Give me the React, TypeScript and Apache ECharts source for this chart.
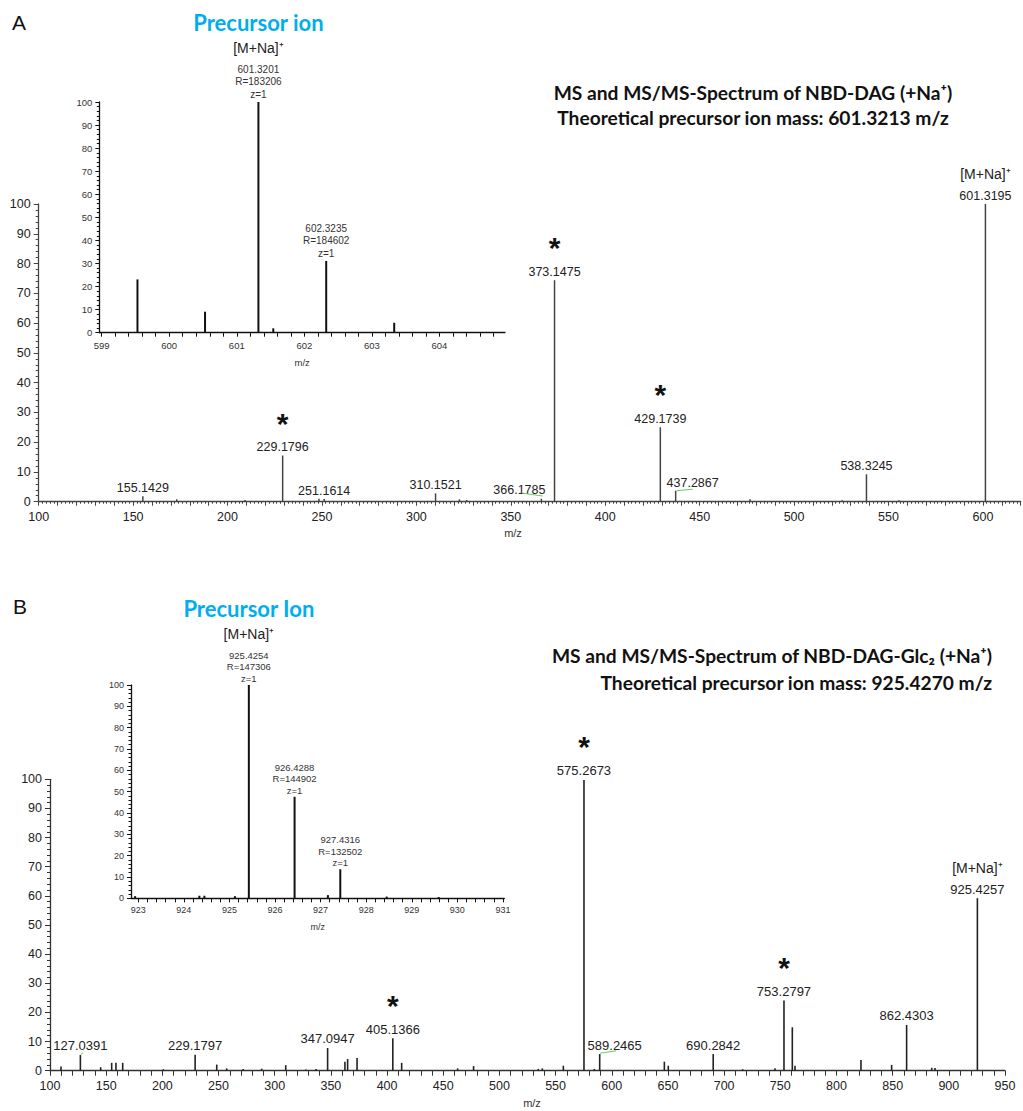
import React, { useEffect, useRef } from 'react';
import * as echarts from 'echarts';

// ---------- Panel A : NBD-DAG ----------
const aMz = [155.1429, 173.1, 209.3, 229.1796, 248.4, 251.1614, 310.1521, 322.8, 326.7, 366.1785, 373.1475, 429.1739, 437.2867, 476.7, 525.5, 538.3245, 555.5, 601.3195];
const aInt = [1.8, 0.8, 0.6, 15.5, 1.0, 0.9, 2.8, 0.8, 0.6, 1.0, 74.4, 25.0, 3.7, 0.8, 0.5, 9.2, 0.5, 100];
const aLabels = ['155.1429', '', '', '229.1796', '', '251.1614', '310.1521', '', '', '366.1785', '373.1475', '429.1739', '437.2867', '', '', '538.3245', '', '601.3195'];
const aStarred = ['229.1796', '373.1475', '429.1739'];
const aPrecursor = '601.3195';
const aLabelShift: Record<string, number[]> = { '366.1785': [-22, 0], '437.2867': [17, 1] };
const aGreen = [
  [[355.8, 2.9], [366.9, 1.9]],
  [[437.9, 3.7], [446.3, 4.2]],
];

// Inset A
const aInsetMz = [599.53, 600.53, 601.3201, 601.54, 602.3235, 603.33];
const aInsetInt = [23.1, 9.1, 100, 1.9, 31.1, 4.3];
const aInsetLabel = ['', '', '601.3201', '', '602.3235', ''];
const aInsetRes = ['', '', 'R=183206', '', 'R=184602', ''];
const aInsetTicks = [599, 600, 601, 602, 603, 604];

// ---------- Panel B : NBD-DAG-Glc2 ----------
const bMz = [109.8, 127.0391, 145.1, 154.9, 158.7, 164.7, 200.9, 229.1797, 248.4, 257.3, 271.9, 288.4, 309.8, 327.9, 336.8, 347.0947, 362.5, 364.9, 373.3, 405.1366, 413.0, 462.8, 477.0, 534.6, 538.2, 556.9, 575.2673, 584.5, 589.2465, 646.8, 650.3, 690.2842, 716.5, 745.3, 753.2797, 760.7, 763.1, 821.8, 849.1, 862.4303, 884.8, 887.7, 925.4257];
const bInt = [1.4, 5.4, 1.2, 2.7, 2.7, 2.7, 0.5, 5.5, 2.1, 0.8, 0.6, 0.7, 1.9, 0.4, 0.6, 7.8, 3.1, 4.0, 4.4, 11.1, 2.7, 0.8, 1.6, 0.6, 0.8, 1.7, 99.8, 0.6, 5.7, 3.1, 1.7, 5.7, 0.5, 0.8, 24.1, 14.9, 1.7, 3.7, 2.0, 15.7, 1.0, 0.9, 59.2];
const bLabelSet = ['127.0391', '229.1797', '347.0947', '405.1366', '575.2673', '589.2465', '690.2842', '753.2797', '862.4303', '925.4257'];
const bStarred = ['405.1366', '575.2673', '753.2797'];
const bPrecursor = '925.4257';
const bLabelShift: Record<string, number[]> = { '589.2465': [15, 0] };
const bGreen = [
  [[127.3, 5.5], [129.6, 6.3]],
  [[589.5, 6.0], [603.8, 6.8]],
];

// Inset B
const bInsetMz = [922.93, 924.34, 924.45, 925.12, 925.4254, 926.4288, 927.16, 927.4316, 928.45, 929.59];
const bInsetInt = [1.0, 1.2, 1.2, 1.0, 100, 47.6, 1.5, 13.6, 0.8, 0.6];
const bInsetLabel = ['', '', '', '', '925.4254', '926.4288', '', '927.4316', '', ''];
const bInsetRes = ['', '', '', '', 'R=147306', 'R=144902', '', 'R=132502', '', ''];
const bInsetTicks = [923, 924, 925, 926, 927, 928, 929, 930, 931];

const SANS = '"Liberation Sans", Arial, sans-serif';
const CAL = 'Lato, "Open Sans", sans-serif';
const CYAN = '#00AEEF';

function minorList(labels: number[], step: number) {
  const out: number[] = [];
  for (let i = 0; i < labels.length; i++) {
    const start = labels[i];
    const end = i < labels.length - 1 ? labels[i + 1] : labels[i] + 1;
    for (let v = start; v < end - 1e-6; v += step) out.push(Math.round(v * 100) / 100);
  }
  return out;
}

function mainItems(mz: number[], inten: number[], labelOf: (i: number) => string, starred: string[], precursor: string, shift: Record<string, number[]>) {
  return mz.map((x, i) => {
    const item: any = { value: [x, inten[i]] };
    const lab = labelOf(i);
    if (lab) {
      let f = '';
      if (starred.indexOf(lab) >= 0) f += '{star|*}\n';
      if (lab === precursor) f += '{ion|[M+Na]⁺}\n';
      f += '{v|' + lab + '}';
      item.label = { show: true, formatter: f, offset: shift[lab] || [0, 0] };
    }
    return item;
  });
}

function insetItems(mz: number[], inten: number[], labs: string[], res: string[], title: string) {
  return mz.map((x, i) => {
    const item: any = { value: [x, inten[i]] };
    if (labs[i]) {
      let f = '';
      if (inten[i] === 100) f += '{pre|' + title + '}\n{ion|[M+Na]⁺}\n';
      f += '{s|' + labs[i] + '}\n{s|' + res[i] + '}\n{s|z=1}';
      item.label = { show: true, formatter: f };
    }
    return item;
  });
}

function valueAxis(gridIndex: number, extra: any, fontSize: number, margin: number, color: string) {
  return Object.assign({
    type: 'value',
    gridIndex,
    axisLine: { show: true, onZero: false, lineStyle: { color, width: 1.3 } },
    axisTick: { show: true, inside: false, length: 4, lineStyle: { color, width: 1 } },
    splitLine: { show: false },
    minorSplitLine: { show: false },
    axisLabel: { color: '#222', fontSize, fontFamily: SANS, margin },
  }, extra);
}

export default function App() {
  const ref = useRef<HTMLDivElement>(null);

  useEffect(() => {
    document.body.style.margin = '0';
    if (!ref.current) return;
    const chart = echarts.init(ref.current, undefined, { renderer: 'svg' });

    const mainRich = (fs: number, ionLh: number) => ({
      v: { fontSize: fs, lineHeight: 14, color: '#222', fontFamily: SANS },
      star: { fontSize: 30, fontWeight: 'bold', lineHeight: 34, color: '#111', fontFamily: SANS },
      ion: { fontSize: 14, lineHeight: ionLh, color: '#222', fontFamily: SANS },
    });

    const insetRich = (fs: number, lh: number, ionLh: number, preLh: number) => ({
      s: { fontSize: fs, lineHeight: lh, color: '#333', fontFamily: SANS },
      ion: { fontSize: 14, lineHeight: ionLh, color: '#222', fontFamily: SANS },
      pre: { fontSize: 22, lineHeight: preLh, fontWeight: 'bold', color: CYAN, fontFamily: CAL },
    });

    const greenLines = (segs: number[][][]) => ({
      silent: true,
      symbol: ['none', 'none'],
      label: { show: false },
      lineStyle: { color: '#66cc66', width: 1, type: 'solid' },
      data: segs.map((s) => [{ coord: s[0] }, { coord: s[1] }]),
    });

    const option: any = {
      animation: false,
      backgroundColor: '#ffffff',
      grid: [
        { left: 38.7, top: 204, width: 982, height: 297.7, outerBoundsMode: 'none' },
        { left: 99.3, top: 102, width: 405.7, height: 230.7, outerBoundsMode: 'none' },
        { left: 50, top: 779.3, width: 955, height: 291.4, outerBoundsMode: 'none' },
        { left: 131, top: 685, width: 373.3, height: 213.3, outerBoundsMode: 'none' },
      ],
      xAxis: [
        valueAxis(0, {
          min: 100, max: 620, interval: 10,
          minorTick: { show: true, splitNumber: 5, length: 2, lineStyle: { color: '#444' } },
          axisLabel: { color: '#222', fontSize: 12.5, fontFamily: SANS, margin: 9, formatter: (v: number) => (Math.round(v) % 50 === 0 ? String(Math.round(v)) : '') },
        }, 12.5, 9, '#444'),
        valueAxis(1, {
          min: 598.965, max: 604.97,
          name: 'm/z', nameLocation: 'middle', nameGap: 25,
          nameTextStyle: { fontSize: 9.5, color: '#333', fontFamily: SANS },
          axisTick: { show: true, length: 4, customValues: minorList(aInsetTicks, 0.2), lineStyle: { color: '#111' } },
          axisLabel: { color: '#333', fontSize: 9.5, fontFamily: SANS, margin: 8, customValues: aInsetTicks },
        }, 9.5, 8, '#111'),
        valueAxis(2, {
          min: 100, max: 950, interval: 10,
          axisTick: { show: true, length: 5, lineStyle: { color: '#333' } },
          axisLabel: { color: '#222', fontSize: 12.5, fontFamily: SANS, margin: 9, formatter: (v: number) => (Math.round(v) % 50 === 0 ? String(Math.round(v)) : '') },
        }, 12.5, 9, '#333'),
        valueAxis(3, {
          min: 922.84, max: 931.03,
          name: 'm/z', nameLocation: 'middle', nameGap: 24,
          nameTextStyle: { fontSize: 9, color: '#333', fontFamily: SANS },
          axisTick: { show: true, length: 4, customValues: minorList(bInsetTicks.slice(0, -1), 0.2).concat([931]), lineStyle: { color: '#111' } },
          axisLabel: { color: '#333', fontSize: 9, fontFamily: SANS, margin: 7.5, customValues: bInsetTicks },
        }, 9, 7.5, '#111'),
      ],
      yAxis: [
        valueAxis(0, {
          min: 0, max: 100, interval: 10,
          axisTick: { show: true, length: 5, lineStyle: { color: '#444' } },
          minorTick: { show: true, splitNumber: 5, length: 3, lineStyle: { color: '#444' } },
          axisLabel: { color: '#222', fontSize: 12.5, fontFamily: SANS, margin: 8 },
        }, 12.5, 8, '#444'),
        valueAxis(1, {
          min: 0, max: 100, interval: 10,
          axisTick: { show: true, length: 4, lineStyle: { color: '#111' } },
          minorTick: { show: true, splitNumber: 5, length: 2.5, lineStyle: { color: '#111' } },
          axisLabel: { color: '#333', fontSize: 9.5, fontFamily: SANS, margin: 7 },
        }, 9.5, 7, '#111'),
        valueAxis(2, {
          min: 0, max: 100, interval: 10,
          axisTick: { show: true, length: 5, lineStyle: { color: '#333' } },
          minorTick: { show: true, splitNumber: 5, length: 3, lineStyle: { color: '#333' } },
          axisLabel: { color: '#222', fontSize: 12.5, fontFamily: SANS, margin: 8 },
        }, 12.5, 8, '#333'),
        valueAxis(3, {
          min: 0, max: 100, interval: 10,
          axisTick: { show: true, length: 4, lineStyle: { color: '#111' } },
          minorTick: { show: true, splitNumber: 5, length: 2.5, lineStyle: { color: '#111' } },
          axisLabel: { color: '#333', fontSize: 9, fontFamily: SANS, margin: 7 },
        }, 9, 7, '#111'),
      ],
      series: [
        {
          type: 'bar', xAxisIndex: 0, yAxisIndex: 0, barWidth: 1.5,
          itemStyle: { color: '#444' },
          label: { show: false, position: 'top', distance: 1.5, rich: mainRich(12.5, 30) },
          data: mainItems(aMz, aInt, (i) => aLabels[i], aStarred, aPrecursor, aLabelShift),
          markLine: greenLines(aGreen),
        },
        {
          type: 'bar', xAxisIndex: 1, yAxisIndex: 1, barWidth: 2,
          itemStyle: { color: '#111' },
          label: { show: false, position: 'top', distance: 1, rich: insetRich(10, 12.7, 29.3, 22) },
          data: insetItems(aInsetMz, aInsetInt, aInsetLabel, aInsetRes, 'Precursor ion'),
        },
        {
          type: 'bar', xAxisIndex: 2, yAxisIndex: 2, barWidth: 1.6,
          itemStyle: { color: '#222' },
          label: { show: false, position: 'top', distance: 2, rich: mainRich(13, 28) },
          data: mainItems(bMz, bInt, (i) => {
            const s = bMz[i].toFixed(4);
            return bLabelSet.indexOf(s) >= 0 ? s : '';
          }, bStarred, bPrecursor, bLabelShift),
          markLine: greenLines(bGreen),
        },
        {
          type: 'bar', xAxisIndex: 3, yAxisIndex: 3, barWidth: 2,
          itemStyle: { color: '#111' },
          label: { show: false, position: 'top', distance: 0.5, rich: insetRich(9.5, 11.7, 31.7, 18.3) },
          data: insetItems(bInsetMz, bInsetInt, bInsetLabel, bInsetRes, 'Precursor Ion'),
        },
      ],
      graphic: [
        { type: 'text', x: 19, y: 22, style: { text: 'A', fontSize: 21, fontFamily: SANS, fill: '#111', align: 'center', verticalAlign: 'middle' } },
        { type: 'text', x: 20, y: 606, style: { text: 'B', fontSize: 21, fontFamily: SANS, fill: '#111', align: 'center', verticalAlign: 'middle' } },
        { type: 'text', x: 753, y: 92, style: { text: 'MS and MS/MS-Spectrum of NBD-DAG (+Na⁺)', fontSize: 19.2, fontWeight: 'bold', fontFamily: CAL, fill: '#111', align: 'center', verticalAlign: 'middle' } },
        { type: 'text', x: 753, y: 117, style: { text: 'Theoretical precursor ion mass: 601.3213 m/z', fontSize: 19.2, fontWeight: 'bold', fontFamily: CAL, fill: '#111', align: 'center', verticalAlign: 'middle' } },
        { type: 'text', x: 992, y: 655, style: { text: 'MS and MS/MS-Spectrum of NBD-DAG-Glc₂ (+Na⁺)', fontSize: 19.2, fontWeight: 'bold', fontFamily: CAL, fill: '#111', align: 'right', verticalAlign: 'middle' } },
        { type: 'text', x: 992, y: 682, style: { text: 'Theoretical precursor ion mass: 925.4270 m/z', fontSize: 19.2, fontWeight: 'bold', fontFamily: CAL, fill: '#111', align: 'right', verticalAlign: 'middle' } },
        { type: 'text', x: 513, y: 533, style: { text: 'm/z', fontSize: 11, fontFamily: SANS, fill: '#333', align: 'center', verticalAlign: 'middle' } },
        { type: 'text', x: 532, y: 1103, style: { text: 'm/z', fontSize: 11, fontFamily: SANS, fill: '#333', align: 'center', verticalAlign: 'middle' } },
      ],
    };

    chart.setOption(option);
    return () => chart.dispose();
  }, []);

  return <div ref={ref} style={{ width: 1023, height: 1111 }} />;
}
